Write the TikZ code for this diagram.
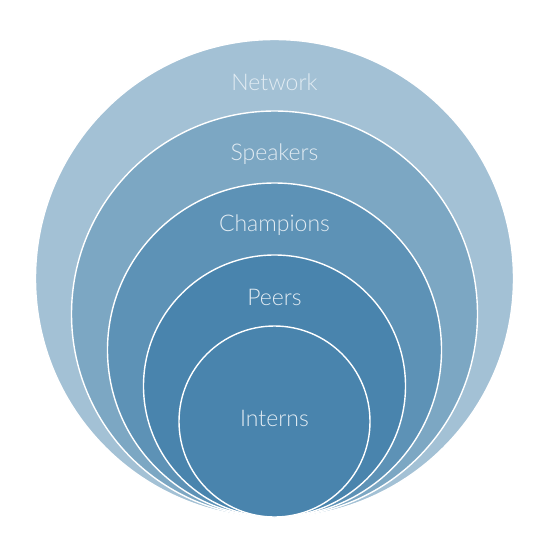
\documentclass[tikz,border=0pt]{standalone}
\usepackage{fontspec}
\newfontfamily\lblfont{Lato Light}
\usepackage{xcolor}
\usepackage{tikz}
\usetikzlibrary{positioning}
\definecolor{netblue}{RGB}{163,193,213}
\definecolor{spkblue}{RGB}{124,167,195}
\definecolor{chpblue}{RGB}{93,146,182}
\definecolor{peerblue}{RGB}{73,132,173}
\definecolor{lbltext}{RGB}{226,236,243}

\begin{document}
\begin{tikzpicture}[x=1pt, y=-1pt,
    ring/.style={circle, draw=white, line width=1.4pt, inner sep=0pt},
    lbl/.style={text=lbltext, font=\lblfont\fontsize{23}{27}\selectfont, inner sep=0pt}]
  \useasboundingbox (0,0) rectangle (546,539);
  % nested circles, all touching at the bottom
  \node[ring, fill=netblue, minimum size=478pt] (network) at (274.5,278.5) {};
  \node[ring, fill=spkblue, minimum size=406pt] (speakers) at (274.5,314) {};
  \node[ring, fill=chpblue, minimum size=334pt] (champions) at (274.5,350) {};
  \node[ring, fill=peerblue, minimum size=262pt] (peers) at (274.5,386) {};
  \node[ring, fill=peerblue, minimum size=191pt] (interns) at (274.5,421.5) {};
  % labels
  \node[lbl] (networklbl) at ([yshift=-43pt]network.north) {Network};
  \node[lbl] (speakerslbl) at ([yshift=-44pt]speakers.north) {Speakers};
  \node[lbl] (championslbl) at ([yshift=-43pt]champions.north) {Champions};
  \node[lbl] (peerslbl) at ([yshift=-43pt]peers.north) {Peers};
  \node[lbl] (internslbl) at ([yshift=3pt]interns.center) {Interns};
\end{tikzpicture}
\end{document}
